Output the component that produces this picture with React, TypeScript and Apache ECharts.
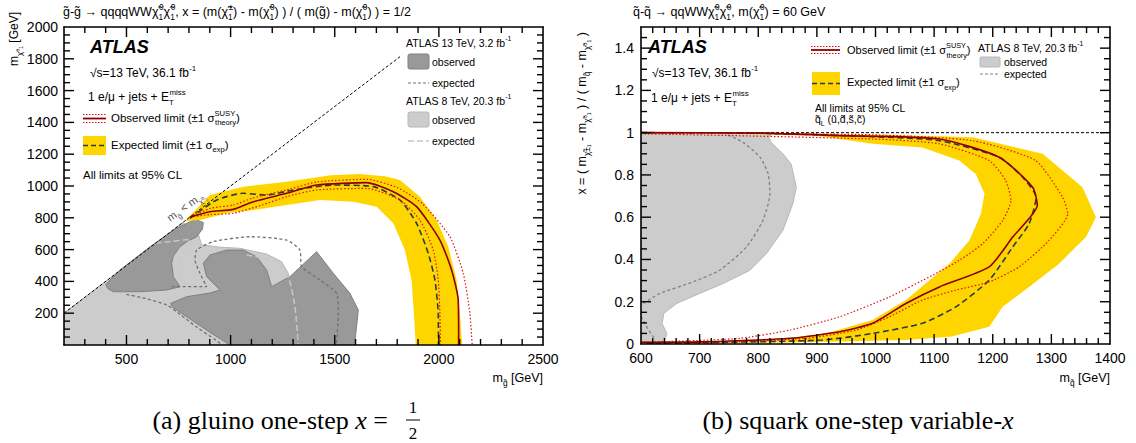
import React, { useEffect, useRef } from 'react';
import * as echarts from 'echarts';

const FONT = '"Liberation Sans", Arial, Helvetica, "DejaVu Sans", sans-serif';
const SERIF = '"Liberation Serif", "Times New Roman", "DejaVu Serif", serif';

function range(a: number, b: number, step: number): number[] {
  const out: number[] = [];
  for (let v = a; v <= b + 1e-9; v += step) out.push(Math.round(v * 1000) / 1000);
  return out;
}

// ---------- tick values ----------
const gXLabels = [500, 1000, 1500, 2000, 2500];
const gXMajor = [500, 1000, 1500, 2000];
const gXMinor = range(300, 2400, 100).filter(v => v % 500 !== 0);
const gYLabels = range(200, 2000, 200);
const gYMajor = range(200, 1800, 200);
const gYMinor = range(50, 1950, 50).filter(v => v % 200 !== 0);

const qXLabels = range(600, 1400, 100);
const qXMajor = range(700, 1300, 100);
const qXMinor = range(620, 1380, 20).filter(v => v % 100 !== 0);
const qYLabels = range(0, 1.4, 0.2);
const qYMajor = range(0.2, 1.4, 0.2);
const qYMinor = range(0.05, 1.45, 0.05).filter(v => !range(0, 1.4, 0.2).some(m => Math.abs(m - v) < 1e-6));

// ---------- (a) gluino one-step x = 1/2 : [m_gluino, m_chi10] ----------
const gDiag = [[200, 200], [1840, 1840]];
const g8Obs = [[200, 0], [200, 200], [770, 770], [845, 700], [860, 630], [950, 615], [1045, 608], [1173, 572], [1245, 524], [1277, 451], [1301, 346], [1325, 157], [1341, 10], [1345, 0]];
const g13ObsA = [[400, 380], [469, 472], [613, 618], [740, 735], [830, 790], [869, 770], [865, 730], [837, 681], [790, 650], [757, 618], [725, 560], [717, 514], [725, 430], [757, 367], [693, 346], [565, 335], [437, 335], [410, 355]];
const g13ObsB = [[997, 0], [900, 80], [823, 148], [720, 239], [712, 262], [789, 304], [901, 327], [949, 346], [885, 430], [869, 514], [901, 566], [981, 597], [1061, 597], [1125, 555], [1173, 472], [1197, 367], [1285, 430], [1413, 587], [1493, 451], [1573, 325], [1613, 220], [1605, 115], [1595, 10], [1600, 0]];
const g13ExpA = [[500, 318], [600, 290], [693, 252], [760, 190], [840, 110], [930, 30], [960, 0]];
const g13ExpB = [[717, 367], [885, 367], [853, 451], [829, 535], [837, 597], [917, 650], [1093, 681], [1269, 660], [1333, 597], [1341, 492], [1429, 409], [1509, 325], [1517, 199], [1508, 0]];
const g8ExpA = [[640, 640], [805, 665], [773, 587], [749, 472], [773, 388], [885, 346]];
const g8ExpB = [[1077, 566], [1221, 524], [1277, 430], [1309, 241], [1325, 0]];
const gBandOuter = [[780, 780], [901, 943], [1061, 996], [1269, 1027], [1480, 1068], [1620, 1075], [1740, 1062], [1813, 1038], [1909, 933], [1989, 786], [2045, 618], [2085, 409], [2101, 199], [2112, 0]];
const gBandInner = [[1889, 0], [1880, 199], [1869, 409], [1837, 597], [1781, 765], [1701, 870], [1589, 901], [1429, 912], [1269, 880], [1109, 849], [981, 828], [853, 786], [790, 780]];
const gExp = [[805, 797], [933, 912], [1061, 954], [1173, 943], [1301, 975], [1493, 1006], [1685, 996], [1813, 912], [1893, 765], [1949, 577], [1981, 409], [1997, 199], [1998, 0]];
const gObs = [[805, 805], [901, 838], [1013, 853], [1109, 901], [1269, 954], [1413, 1006], [1653, 1021], [1781, 964], [1893, 870], [2005, 660], [2061, 472], [2093, 283], [2095, 0]];
const gObsUp = [[805, 805], [905, 860], [1013, 880], [1109, 925], [1269, 975], [1413, 1025], [1653, 1042], [1800, 990], [1920, 890], [2053, 681], [2117, 451], [2149, 199], [2160, 0]];
const gObsDn = [[805, 805], [901, 820], [1013, 828], [1150, 880], [1269, 933], [1413, 975], [1653, 985], [1813, 912], [1909, 786], [1973, 597], [1997, 409], [2005, 199], [2008, 0]];

// ---------- (b) squark one-step variable-x : [m_squark, x] ----------
const qLineX1 = [[600, 1], [1400, 1]];
const q8Obs = [[600, 0], [630, 0.005], [641, 0.019], [644, 0.05], [636, 0.097], [639, 0.145], [661, 0.192], [700, 0.239], [740, 0.286], [786, 0.349], [814, 0.428], [842, 0.538], [859, 0.664], [865, 0.742], [856, 0.852], [842, 0.9], [822, 0.954], [818, 0.98], [825, 0.998], [600, 0.998]];
const q8Exp = [[740, 1.0], [774, 0.954], [803, 0.884], [817, 0.805], [820, 0.711], [808, 0.585], [780, 0.459], [734, 0.349], [689, 0.294], [632, 0.239], [604, 0.192], [600, 0.185]];
const q8ExpB = [[600, 0.13], [612, 0.07], [622, 0.03]];
const qBandOuter = [[600, 1.003], [760, 1.003], [939, 0.992], [1080, 0.985], [1166, 0.978], [1285, 0.9], [1353, 0.742], [1376, 0.6], [1359, 0.506], [1313, 0.38], [1262, 0.27], [1217, 0.176], [1194, 0.082], [1130, 0.035], [1052, 0.019], [884, 0.008], [700, 0.002], [600, 0.0]];
const qBandInner = [[600, 0.012], [711, 0.012], [825, 0.019], [916, 0.05], [995, 0.113], [1052, 0.208], [1092, 0.302], [1126, 0.38], [1160, 0.49], [1180, 0.617], [1186, 0.711], [1171, 0.805], [1143, 0.868], [1080, 0.93], [995, 0.947], [900, 0.985], [760, 0.995], [600, 0.995]];
const qExp = [[600, 1.0], [800, 0.998], [995, 0.981], [1109, 0.962], [1211, 0.884], [1251, 0.789], [1274, 0.695], [1262, 0.569], [1234, 0.459], [1194, 0.302], [1137, 0.176], [1080, 0.098], [995, 0.05], [910, 0.019], [700, 0.006], [600, 0.004]];
const qObs = [[600, 1.0], [800, 0.998], [939, 0.986], [1109, 0.97], [1211, 0.884], [1268, 0.742], [1276, 0.656], [1234, 0.506], [1194, 0.365], [1109, 0.27], [1052, 0.192], [995, 0.098], [939, 0.058], [854, 0.027], [700, 0.01], [600, 0.008]];
const qObsUp = [[600, 1.0], [995, 0.99], [1166, 0.962], [1273, 0.868], [1319, 0.695], [1328, 0.617], [1296, 0.49], [1245, 0.365], [1194, 0.294], [1137, 0.255], [1080, 0.208], [1024, 0.129], [967, 0.066], [882, 0.027], [750, 0.01], [600, 0.006]];
const qObsDn = [[600, 0.995], [995, 0.97], [1109, 0.947], [1194, 0.868], [1222, 0.774], [1231, 0.679], [1217, 0.585], [1183, 0.475], [1143, 0.396], [1097, 0.325], [1024, 0.223], [939, 0.129], [854, 0.066], [769, 0.027], [650, 0.012], [600, 0.01]];

// ---------- colours ----------
const C_YELLOW = '#ffd500';
const C_OBS = '#8b0000';
const C_OBS_SIG = '#e01010';
const C_EXP = '#2a3a4a';
const C_DARK = '#999999';
const C_DARK_EDGE = '#808080';
const C_LIGHT = '#cccccc';
const C_LIGHT_EDGE = '#b8b8b8';

const GRID_L = { left: 64, top: 27, width: 479, height: 318 };
const GRID_R = { left: 641, top: 27, width: 469, height: 317 };

function axis(gridIndex: number, position: string, min: number, max: number, labels: number[] | null, margin: number) {
  return {
    type: 'value', gridIndex, position, min, max, z: 10,
    splitLine: { show: false }, axisPointer: { show: false },
    axisLine: { show: true, onZero: false, lineStyle: { color: '#000', width: 1.6 } },
    axisTick: { show: false },
    axisLabel: labels
      ? { show: true, customValues: labels, color: '#000', fontSize: 14, fontFamily: FONT, margin, formatter: (v: number) => String(+(+v).toFixed(2)) }
      : { show: false },
  };
}

// tick marks along the frame (same linear mapping as the grid's value axes)
function tickGraphics(g: any, xr: number[], yr: number[], xMaj: number[], xMin: number[], yMaj: number[], yMin: number[]) {
  const out: any[] = [];
  const px = (v: number) => g.left + (v - xr[0]) / (xr[1] - xr[0]) * g.width;
  const py = (v: number) => g.top + g.height - (v - yr[0]) / (yr[1] - yr[0]) * g.height;
  const bottom = g.top + g.height, top = g.top, left = g.left, right = g.left + g.width;
  const ln = (x1: number, y1: number, x2: number, y2: number) =>
    out.push({ type: 'line', z: 31, silent: true, shape: { x1, y1, x2, y2 }, style: { stroke: '#000', lineWidth: 1.4 } });
  ([[xMaj, 10], [xMin, 6]] as [number[], number][]).forEach(([vals, len]) => vals.forEach(v => {
    const x = px(v);
    ln(x, bottom, x, bottom - len); ln(x, top, x, top + len);
  }));
  ([[yMaj, 10], [yMin, 6]] as [number[], number][]).forEach(([vals, len]) => vals.forEach(v => {
    const y = py(v);
    ln(left, y, left + len, y); ln(right, y, right - len, y);
  }));
  return out;
}

function poly(data: number[][], ax: number, style: any, z: number) {
  return {
    type: 'custom', xAxisIndex: ax, yAxisIndex: ax, z, clip: true, silent: true,
    data: [data[0]],
    renderItem: (_p: any, api: any) => ({
      type: 'polygon',
      shape: { points: data.map(d => api.coord(d)) },
      style,
    }),
  };
}
function polyBand(outer: number[][], inner: number[][], ax: number, style: any, z: number) {
  return poly(outer.concat(inner), ax, style, z);
}
function line(data: number[][], ax: number, color: string, width: number, type: any, z: number, smooth: number = 0.2) {
  return {
    type: 'line', xAxisIndex: ax, yAxisIndex: ax, z, data, symbol: 'none', showSymbol: false, silent: true,
    smooth, clip: true, lineStyle: { color, width, type }, emphasis: { disabled: true }, animation: false,
  };
}

function rich(size: number) {
  const s = +(size * 0.66).toFixed(1);
  return {
    n: { fontSize: size, fontFamily: FONT, lineHeight: size + 6 },
    sup: { fontSize: s, fontFamily: FONT, lineHeight: s + 2, verticalAlign: 'top' },
    sub: { fontSize: s, fontFamily: FONT, lineHeight: s + 2, verticalAlign: 'bottom' },
    sb: { fontSize: s, fontFamily: FONT, lineHeight: s + 2, verticalAlign: 'bottom', width: 0.5 },
    sp: { fontSize: s, fontFamily: FONT, lineHeight: s + 2, verticalAlign: 'top', width: 0.5 },
  };
}
function rt(x: number, y: number, text: string, size: number, extra: any = {}) {
  const { fill = '#000', align = 'left', rotation = 0, verticalAlign = 'middle' } = extra;
  return {
    type: 'text', x, y, rotation, z: 30, silent: true,
    style: { text, rich: rich(size), fill, align, verticalAlign, fontSize: size, fontFamily: FONT },
  };
}
function t(x: number, y: number, text: string, size: number, extra: any = {}) {
  const { fill = '#000', align = 'left', weight = 'normal', style = 'normal', family = FONT } = extra;
  return {
    type: 'text', x, y, z: 30, silent: true,
    style: { text, fill, align, verticalAlign: 'middle', fontSize: size, fontFamily: family, fontWeight: weight, fontStyle: style },
  };
}
function seg(x1: number, y1: number, x2: number, y2: number, stroke: string, width: number, dash?: number[]) {
  return { type: 'line', z: 30, silent: true, shape: { x1, y1, x2, y2 }, style: { stroke, lineWidth: width, lineDash: dash } };
}
function box(x: number, y: number, w: number, h: number, fill: string, stroke?: string, r = 0) {
  return { type: 'rect', z: 29, silent: true, shape: { x, y, width: w, height: h, r }, style: { fill, stroke, lineWidth: stroke ? 1 : 0 } };
}

const X = 'χ\u0303';

export default function App() {
  const ref = useRef<HTMLDivElement>(null);
  useEffect(() => {
    if (!ref.current) return;
    const chart = echarts.init(ref.current, null, { renderer: 'svg' });
    const xAxis = [
      axis(0, 'bottom', 200, 2500, gXLabels, 7),
      axis(0, 'top', 200, 2500, null, 7),
      axis(1, 'bottom', 600, 1400, qXLabels, 7),
      axis(1, 'top', 600, 1400, null, 7),
    ];
    const yAxis = [
      axis(0, 'left', 0, 2000, gYLabels, 6),
      axis(0, 'right', 0, 2000, null, 6),
      axis(1, 'left', 0, 1.5, qYLabels, 7),
      axis(1, 'right', 0, 1.5, null, 7),
    ];
    const L = 0, R = 2;
    const series: any[] = [
      // left
      poly(g8Obs, L, { fill: C_LIGHT, stroke: C_LIGHT_EDGE, lineWidth: 1 }, 1),
      poly(g13ObsB, L, { fill: C_DARK, stroke: C_DARK_EDGE, lineWidth: 1 }, 2),
      poly(g13ObsA, L, { fill: C_DARK, stroke: C_DARK_EDGE, lineWidth: 1 }, 2),
      polyBand(gBandOuter, gBandInner, L, { fill: C_YELLOW }, 3),
      line(g8ExpA, L, '#c8c8c8', 1.5, [6, 3], 4),
      line(g8ExpB, L, '#c8c8c8', 1.5, [6, 3], 4),
      line(g13ExpA, L, '#707070', 1.3, [3, 2.5], 4),
      line(g13ExpB, L, '#707070', 1.3, [3, 2.5], 4),
      line(gDiag, L, '#000', 1, [3, 2], 4, 0),
      line(gExp, L, C_EXP, 1.6, [6, 3.5], 5),
      line(gObsUp, L, C_OBS_SIG, 1.2, [1.5, 2], 6),
      line(gObsDn, L, C_OBS_SIG, 1.2, [1.5, 2], 6),
      line(gObs, L, C_OBS, 1.6, 'solid', 7),
      // right
      poly(q8Obs, R, { fill: C_LIGHT, stroke: C_LIGHT_EDGE, lineWidth: 1 }, 1),
      polyBand(qBandOuter, qBandInner, R, { fill: C_YELLOW }, 3),
      line(q8Exp, R, '#808080', 1.3, [3, 2.5], 4),
      line(q8ExpB, R, '#808080', 1.3, [3, 2.5], 4, 0),
      line(qLineX1, R, '#000', 1, [3, 2], 4, 0),
      line(qExp, R, C_EXP, 1.6, [6, 3.5], 5),
      line(qObsUp, R, C_OBS_SIG, 1.2, [1.5, 2], 6),
      line(qObsDn, R, C_OBS_SIG, 1.2, [1.5, 2], 6),
      line(qObs, R, C_OBS, 1.6, 'solid', 7),
    ];

    const graphic: any[] = [
      // titles
      rt(63, 12, `{n|g̃-g̃ → qqqqWW${X}}{sb|1}{sup|0}{n|${X}}{sb|1}{sup|0}{n|, x = (m(${X}}{sb|1}{sup|±}{n|) - m(${X}}{sb|1}{sup|0}{n|) ) / ( m(g̃) - m(${X}}{sb|1}{sup|0}{n|) ) = 1/2}`, 12.5),
      rt(633, 12, `{n|q̃-q̃ → qqWW${X}}{sb|1}{sup|0}{n|${X}}{sb|1}{sup|0}{n|, m(${X}}{sb|1}{sup|0}{n|) = 60 GeV}`, 12.5),
      // axis titles
      rt(543, 378, `{n|m}{sub|g̃}{n| [GeV]}`, 12.5, { align: 'right' }),
      rt(1110, 378, `{n|m}{sub|q̃}{n| [GeV]}`, 12.5, { align: 'right' }),
      rt(14, 12, `{n|m}{sub|${X}⁰₁}{n| [GeV]}`, 12, { align: 'right', rotation: Math.PI / 2 }),
      rt(582, 32, `{n|x = ( m}{sub|${X}±₁}{n| - m}{sub|${X}⁰₁}{n| ) / ( m}{sub|q̃}{n| - m}{sub|${X}⁰₁}{n| )}`, 12.5, { align: 'right', rotation: Math.PI / 2 }),
      // left panel texts
      t(90, 47, 'ATLAS', 18, { weight: 'bold', style: 'italic' }),
      rt(90, 73, `{n|√s=13 TeV, 36.1 fb}{sup|-1}`, 12),
      rt(88, 97, `{n|1 e/μ + jets + E}{sb|T}{sup|miss}`, 12),
      seg(83, 114.5, 106, 114.5, C_OBS_SIG, 1.2, [1.5, 1.5]),
      seg(83, 118.5, 106, 118.5, C_OBS, 1.8),
      seg(83, 122.5, 106, 122.5, C_OBS_SIG, 1.2, [1.5, 1.5]),
      rt(111, 118, `{n|Observed limit (±1 σ}{sp|SUSY}{sub|theory}{n|)}`, 11.5),
      box(83, 136, 23, 19, C_YELLOW),
      seg(83, 145.5, 106, 145.5, C_EXP, 1.6, [5, 3]),
      rt(111, 145, `{n|Expected limit (±1 σ}{sub|exp}{n|)}`, 11.5),
      t(83, 175, 'All limits at 95% CL', 11.5),
      rt(186, 206, `{n|m}{sub|g̃}{n| < m}{sub|${X}⁰₁}`, 11, { fill: '#555', rotation: 0.62, align: 'center' }),
      // left legend (previous results)
      box(400, 37, 132, 113, '#fff'),
      rt(406, 43, `{n|ATLAS 13 TeV, 3.2 fb}{sup|-1}`, 10.5),
      box(408, 54, 21, 15, C_DARK, C_DARK_EDGE, 2),
      t(432, 62, 'observed', 10.5),
      seg(408, 83, 429, 83, '#707070', 1.2, [3, 2]),
      t(432, 83, 'expected', 10.5),
      rt(406, 101, `{n|ATLAS 8 TeV, 20.3 fb}{sup|-1}`, 10.5),
      box(408, 112, 21, 15, C_LIGHT, C_LIGHT_EDGE, 2),
      t(432, 120, 'observed', 10.5),
      seg(408, 141, 429, 141, '#c8c8c8', 1.5, [6, 3]),
      t(432, 141, 'expected', 10.5),
      // right panel texts
      t(648, 47, 'ATLAS', 18, { weight: 'bold', style: 'italic' }),
      rt(652, 73, `{n|√s=13 TeV, 36.1 fb}{sup|-1}`, 12),
      rt(651, 98, `{n|1 e/μ + jets + E}{sb|T}{sup|miss}`, 12),
      seg(811, 46.5, 840, 46.5, C_OBS_SIG, 1.2, [1.5, 1.5]),
      seg(811, 50, 840, 50, C_OBS, 1.8),
      seg(811, 53.5, 840, 53.5, C_OBS_SIG, 1.2, [1.5, 1.5]),
      rt(847, 50, `{n|Observed limit (±1 σ}{sp|SUSY}{sub|theory}{n|)}`, 11),
      box(812, 72, 28, 23, C_YELLOW),
      seg(812, 83.5, 840, 83.5, C_EXP, 1.6, [5, 3]),
      rt(847, 82, `{n|Expected limit (±1 σ}{sub|exp}{n|)}`, 11),
      t(815, 108, 'All limits at 95% CL', 10.5),
      rt(815, 119, `{n|q̃}{sub|L}{n| (ũ,d̃,s̃,c̃)}`, 10.5),
      rt(978, 48, `{n|ATLAS 8 TeV, 20.3 fb}{sup|-1}`, 10.5),
      box(980, 57, 20, 10, C_LIGHT, C_LIGHT_EDGE, 1),
      t(1004, 62, 'observed', 10.5),
      seg(980, 74, 1000, 74, '#808080', 1.2, [3, 2]),
      t(1004, 74, 'expected', 10.5),
      // captions
      {
        type: 'text', x: 388, y: 420, z: 30, silent: true,
        style: {
          text: '{r|(a) gluino one-step }{i|x}{r| =}', align: 'right', verticalAlign: 'middle', fill: '#000',
          rich: { r: { fontSize: 26, fontFamily: SERIF }, i: { fontSize: 26, fontFamily: SERIF, fontStyle: 'italic' } },
        },
      },
      t(413, 407, '1', 17, { align: 'center', family: SERIF }),
      seg(406, 420, 420, 420, '#000', 1),
      t(413, 433, '2', 17, { align: 'center', family: SERIF }),
      {
        type: 'text', x: 858, y: 420, z: 30, silent: true,
        style: {
          text: '{r|(b) squark one-step variable-}{i|x}', align: 'center', verticalAlign: 'middle', fill: '#000',
          rich: { r: { fontSize: 26, fontFamily: SERIF }, i: { fontSize: 26, fontFamily: SERIF, fontStyle: 'italic' } },
        },
      },
      // frame ticks
      ...tickGraphics(GRID_L, [200, 2500], [0, 2000], gXMajor, gXMinor, gYMajor, gYMinor),
      ...tickGraphics(GRID_R, [600, 1400], [0, 1.5], qXMajor, qXMinor, qYMajor, qYMinor),
    ];

    chart.setOption({
      animation: false,
      backgroundColor: '#fff',
      textStyle: { fontFamily: FONT },
      grid: [
        { ...GRID_L, containLabel: false },
        { ...GRID_R, containLabel: false },
      ],
      xAxis,
      yAxis,
      series,
      graphic,
    });
    return () => chart.dispose();
  }, []);
  return <div ref={ref} style={{ position: 'absolute', left: 0, top: 0, width: 1136, height: 443, background: '#fff' }} />;
}
